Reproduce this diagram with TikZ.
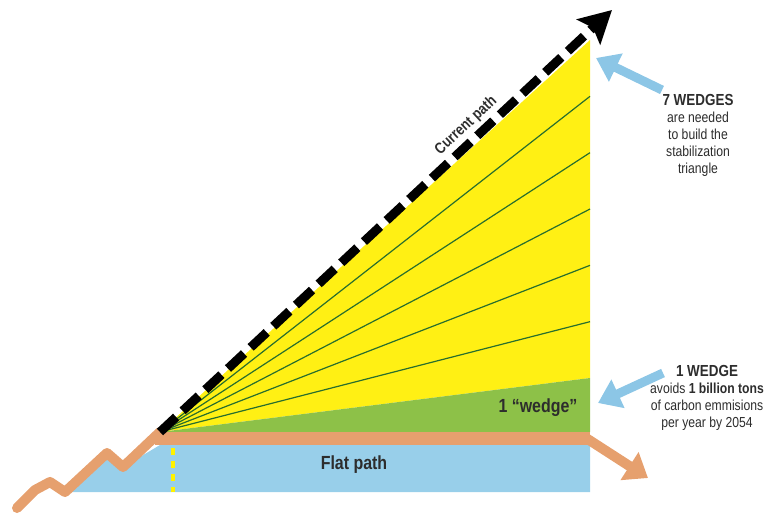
\documentclass[tikz,border=0pt]{standalone}
\usepackage{fontspec}
\setmainfont{Liberation Sans}
\newfontfamily\narrowsans[FakeStretch=0.84]{Liberation Sans}
\usetikzlibrary{arrows.meta,calc}

\definecolor{wedgeyellow}{RGB}{255,240,20}
\definecolor{wedgegreen}{RGB}{141,193,72}
\definecolor{linegreen}{RGB}{40,110,45}
\definecolor{pathorange}{RGB}{230,160,110}
\definecolor{flatblue}{RGB}{152,207,234}
\definecolor{hintblue}{RGB}{140,198,230}
\definecolor{labelgray}{RGB}{45,45,45}

\tikzset{
  hint/.style={hintblue, line width=9pt, -{Triangle[length=22pt,width=30pt]}},
  note/.style={align=center, text=labelgray, font=\narrowsans\fontsize{14.5}{17}\selectfont},
  biglabel/.style={text=labelgray, font=\narrowsans\bfseries\fontsize{19}{22}\selectfont}
}

\begin{document}
\begin{tikzpicture}[x=1pt, y=-1pt, every node/.style={font=\narrowsans}]
  \useasboundingbox (0,0) rectangle (767,514);

  % key points of the triangle
  \coordinate (apex) at (160,432);
  \coordinate (top) at (590,40);
  \coordinate (split) at (590,378);
  \coordinate (base) at (590,432);
  \coordinate (tip) at (612,10);

  % Flat path (blue band)
  \fill[flatblue] (160,445) -- (123,467) -- (107,453) -- (70,492) -- (590,492) -- (590,445) -- cycle;
  \draw[yellow, line width=3.5pt, dash pattern=on 7pt off 6pt] (173,448) -- (173,492);
  \node[biglabel] (flat) at (354,465) {Flat path};

  % Stabilization triangle
  \fill[wedgeyellow] (apex) -- (top) -- (split) -- cycle;
  \fill[wedgegreen] (apex) -- (split) -- (base) -- cycle;
  \foreach \i in {1,...,5}
    \draw[linegreen, line width=1.2pt] (apex) -- ($(top)!\i/6!(split)$);
  \node[biglabel] (wedge) at (538,408) {1 “wedge”};

  % Orange history line and flat continuation
  \fill[pathorange] (155,432) rectangle (590,445);
  \coordinate (bend) at (586,438);
  \coordinate (flatend) at (648,478);
  \draw[pathorange, line width=10pt, -{Triangle[length=22pt,width=32pt]}] (bend) -- (flatend);
  \draw[pathorange, line width=10pt, line join=round, line cap=round]
    (17,508) -- (35,490) -- (50,482) -- (65,492) -- (107,453) -- (123,467) -- (apex);

  % Current path
  \draw[black, line width=9pt, dash pattern=on 22pt off 9pt, -{Stealth[length=32pt,width=34pt,inset=6pt]}]
    (apex) -- (tip) node[pos=0.70, sloped, above=0pt, text=labelgray, font=\narrowsans\bfseries\fontsize{15.5}{17}\selectfont] (current) {Current path};

  % Notes
  \node[note] (seven) at (698,135) {{\bfseries\fontsize{16}{17}\selectfont 7 WEDGES}\\are needed\\to build the\\stabilization\\triangle};
  \coordinate (sevenfrom) at (662,90);
  \coordinate (sevento) at (596,58);
  \draw[hint] (sevenfrom) -- (sevento);

  \node[note] (one) at (707,398) {{\bfseries\fontsize{16}{17}\selectfont 1 WEDGE}\\avoids \textbf{1 billion tons}\\of carbon emmisions\\per year by 2054};
  \coordinate (onefrom) at (663,373);
  \coordinate (oneto) at (598,403);
  \draw[hint] (onefrom) -- (oneto);
\end{tikzpicture}
\end{document}
